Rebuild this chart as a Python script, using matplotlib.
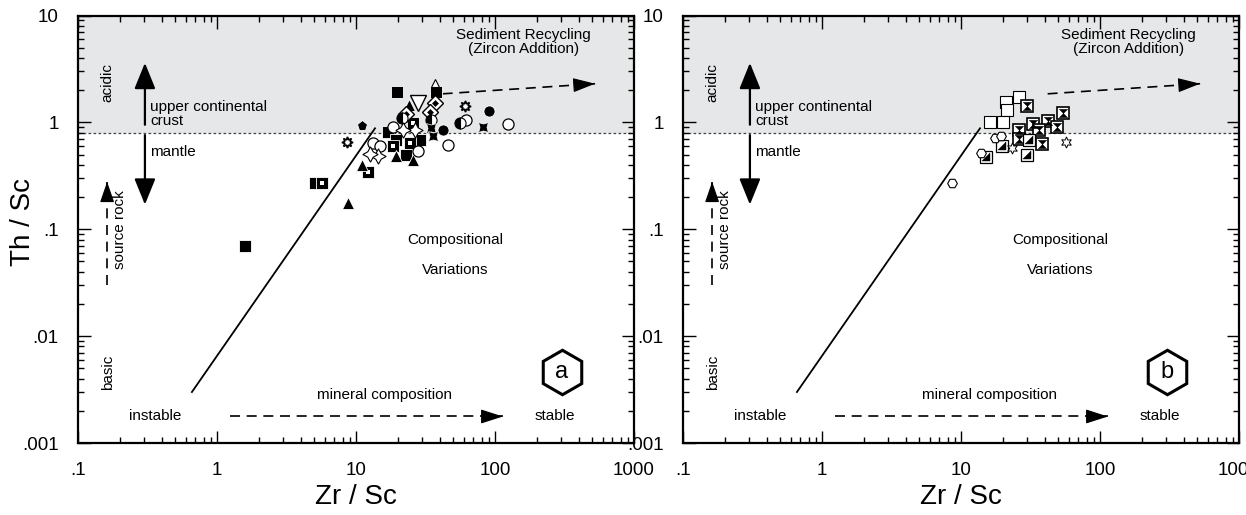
import numpy as np
import matplotlib
matplotlib.use("Agg")
import matplotlib.pyplot as plt
from matplotlib.path import Path
from matplotlib.ticker import LogLocator, FixedLocator, FuncFormatter, NullFormatter

plt.rcParams['font.family'] = ['Liberation Sans', 'DejaVu Sans']

# ---------------- data: panel a (Zr/Sc, Th/Sc) ----------------
a_black_sq_x = [1.6, 19.8, 37.7, 17.0, 23.0, 28.7, 19.5, 5.1]
a_black_sq_y = [0.069, 1.94, 1.94, 0.82, 0.50, 0.68, 0.68, 0.27]
a_check_sq_x = [5.7, 12.1, 18.5, 24.4, 25.7]
a_check_sq_y = [0.27, 0.34, 0.60, 0.64, 0.98]
a_black_tri_x = [24.2, 11.0, 8.7, 19.5, 25.7]
a_black_tri_y = [1.46, 0.40, 0.176, 0.48, 0.44]
a_open_tri_x = [37.0]
a_open_tri_y = [2.32]
a_open_vtri_x = [28.0]
a_open_vtri_y = [1.51]
a_diamond_x = [37.0, 34.0, 22.9]
a_diamond_y = [1.51, 1.24, 1.20]
a_open_circ_x = [62.0, 125.0, 13.3, 14.9, 46.0, 28.0, 18.5]
a_open_circ_y = [1.06, 0.97, 0.64, 0.60, 0.61, 0.54, 0.91]
a_black_circ_x = [91.0, 42.0]
a_black_circ_y = [1.28, 0.85]
a_half_circ_x = [56.0, 34.8, 21.3]
a_half_circ_y = [0.98, 1.06, 1.10]
a_bowtie_x = [82.0, 34.8, 35.8]
a_bowtie_y = [0.90, 0.88, 0.74]
a_open_star_x = [14.5, 12.6, 26.6, 21.9]
a_open_star_y = [0.48, 0.51, 0.85, 0.85]
a_pent_x = [11.0]
a_pent_y = [0.93]
a_sun_x = [8.6, 60.8]
a_sun_y = [0.65, 1.41]

# ---------------- data: panel b ----------------
b_open_sq_x = [26.2, 21.2, 21.6, 16.3, 20.0]
b_open_sq_y = [1.74, 1.56, 1.31, 1.00, 1.00]
b_hourglass_x = [30.0, 54.0, 42.0, 33.0, 49.0, 26.3, 36.6, 26.0, 38.0]
b_hourglass_y = [1.43, 1.22, 1.02, 0.97, 0.91, 0.85, 0.85, 0.70, 0.63]
b_half_sq_x = [19.8, 15.2, 30.0, 31.0]
b_half_sq_y = [0.60, 0.47, 0.50, 0.68]
b_cube_x = [14.0, 17.7, 19.3, 8.6]
b_cube_y = [0.52, 0.71, 0.74, 0.27]
b_star6_x = [57.0, 23.4]
b_star6_y = [0.66, 0.58]

# reference lines / axis labels
upper_crust_limit = 0.8
trend_x = [0.66, 13.7]
trend_y = [0.003, 0.88]
x_tick_vals = [0.1, 1, 10, 100, 1000]
x_tick_txt = ['.1', '1', '10', '100', '1000']
y_tick_vals = [0.001, 0.01, 0.1, 1, 10]
y_tick_txt = ['.001', '.01', '.1', '1', '10']

W, H = 1246, 515
fig = plt.figure(figsize=(W / 100, H / 100), dpi=100)


def box(l, t, r, b):
    return [l / W, 1 - b / H, (r - l) / W, (b - t) / H]


axa = fig.add_axes(box(78, 15.5, 634, 443))
axb = fig.add_axes(box(683, 15.5, 1239, 443))

# custom marker shapes
hourglass = Path([(-1, 1), (1, 1), (-1, -1), (1, -1), (-1, 1)],
                 [Path.MOVETO, Path.LINETO, Path.LINETO, Path.LINETO, Path.CLOSEPOLY])
lower_right = Path([(1, 1), (1, -1), (-1, -1), (1, 1)],
                   [Path.MOVETO, Path.LINETO, Path.LINETO, Path.CLOSEPOLY])


def pts(ax, x, y, **kw):
    base = dict(ls='none', zorder=5)
    base.update(kw)
    ax.plot(x, y, **base)


def head(ax, start, tip, hl, hw):
    # filled arrow head placed at the end of a (dashed) shaft
    t = 0.97
    lx0, ly0 = np.log10(start)
    lx1, ly1 = np.log10(tip)
    back = (10 ** (lx0 + t * (lx1 - lx0)), 10 ** (ly0 + t * (ly1 - ly0)))
    ax.annotate('', xy=tip, xytext=back,
                arrowprops=dict(arrowstyle='-|>,head_length=%g,head_width=%g' % (hl, hw),
                                mutation_scale=1, lw=0.8, color='k',
                                shrinkA=0, shrinkB=0), zorder=6)


def solid_arrow(ax, start, tip):
    ax.annotate('', xy=tip, xytext=start,
                arrowprops=dict(arrowstyle='-|>,head_length=16,head_width=6.5',
                                mutation_scale=1, lw=1.6, color='k',
                                shrinkA=0, shrinkB=0), zorder=6)


def dashed_arrow(ax, start, tip, hl=14, hw=4.5):
    ax.plot([start[0], tip[0]], [start[1], tip[1]], color='k', lw=1.2,
            ls=(0, (6, 4)), zorder=4)
    head(ax, start, tip, hl, hw)


def setup(ax, tag):
    ax.set_xscale('log')
    ax.set_yscale('log')
    ax.set_xlim(0.1, 1000)
    ax.set_ylim(0.001, 10)
    ax.axhspan(upper_crust_limit, 10, color='#e6e7e8', lw=0, zorder=0)
    ax.axhline(upper_crust_limit, color='#444444', lw=0.9, ls=(0, (2.2, 1.8)), zorder=1)

    ax.xaxis.set_major_locator(FixedLocator(x_tick_vals))
    ax.yaxis.set_major_locator(FixedLocator(y_tick_vals))
    ax.xaxis.set_minor_locator(LogLocator(base=10, subs=np.arange(2, 10), numticks=20))
    ax.yaxis.set_minor_locator(LogLocator(base=10, subs=np.arange(2, 10), numticks=20))
    ax.xaxis.set_major_formatter(FuncFormatter(lambda v, p: x_tick_txt[x_tick_vals.index(v)]
                                               if v in x_tick_vals else ''))
    ax.yaxis.set_major_formatter(FuncFormatter(lambda v, p: y_tick_txt[y_tick_vals.index(v)]
                                               if v in y_tick_vals else ''))
    ax.xaxis.set_minor_formatter(NullFormatter())
    ax.yaxis.set_minor_formatter(NullFormatter())
    ax.tick_params(which='both', direction='in', top=True, right=True, width=1.0,
                   labelsize=13.5, colors='k')
    ax.tick_params(which='major', length=9, pad=14)
    ax.tick_params(which='minor', length=4.5)
    for s in ax.spines.values():
        s.set_linewidth(1.6)

    ax.plot(trend_x, trend_y, color='k', lw=1.3, zorder=3)

    fs = 11
    ax.text(0.164, 2.34, 'acidic', rotation=90, ha='center', va='center', fontsize=fs)
    ax.text(0.164, 0.0046, 'basic', rotation=90, ha='center', va='center', fontsize=fs)
    solid_arrow(ax, (0.303, 0.95), (0.303, 3.6))
    solid_arrow(ax, (0.303, 0.76), (0.303, 0.17))
    ax.text(0.33, 1.2, 'upper continental\ncrust', ha='left', va='center', fontsize=fs,
            linespacing=0.95)
    ax.text(0.33, 0.53, 'mantle', ha='left', va='center', fontsize=fs)
    dashed_arrow(ax, (0.162, 0.030), (0.162, 0.278), hl=13, hw=4.5)
    ax.text(0.2, 0.099, 'source rock', rotation=90, ha='center', va='center', fontsize=fs)
    ax.text(0.36, 0.00177, 'instable', ha='center', va='center', fontsize=fs)
    ax.text(270, 0.00177, 'stable', ha='center', va='center', fontsize=fs)
    ax.text(16, 0.0028, 'mineral composition', ha='center', va='center', fontsize=fs)
    dashed_arrow(ax, (1.24, 0.00177), (114, 0.00177))
    ax.text(51.5, 0.080, 'Compositional', ha='center', va='center', fontsize=fs)
    ax.text(51.5, 0.042, 'Variations', ha='center', va='center', fontsize=fs)
    ax.text(160, 5.6, 'Sediment Recycling\n(Zircon Addition)', ha='center', va='center',
            fontsize=fs, linespacing=1.0)
    dashed_arrow(ax, (42, 1.85), (525, 2.3))

    ax.plot([0.870], [0.166], marker='h', ms=32, mfc='white', mec='k', mew=2.2,
            transform=ax.transAxes, zorder=7, clip_on=False)
    ax.text(0.870, 0.166, tag, transform=ax.transAxes, ha='center', va='center',
            fontsize=17, zorder=8)


setup(axa, 'a')
setup(axb, 'b')

# ---- panel a symbols ----
ms = 8
pts(axa, a_black_sq_x, a_black_sq_y, marker='s', ms=ms, mfc='k', mec='white', mew=0.6)
pts(axa, a_check_sq_x, a_check_sq_y, marker='s', ms=ms, mfc='k', mec='white', mew=0.6)
pts(axa, a_check_sq_x, a_check_sq_y, marker='s', ms=3, mfc='white', mec='white', mew=0)
pts(axa, a_black_tri_x, a_black_tri_y, marker='^', ms=ms, mfc='k', mec='white', mew=0.6)
pts(axa, a_open_tri_x, a_open_tri_y, marker='^', ms=6, mfc='white', mec='k', mew=0.8)
pts(axa, a_open_vtri_x, a_open_vtri_y, marker='v', ms=11, mfc='white', mec='k', mew=1.0)
pts(axa, a_diamond_x, a_diamond_y, marker='D', ms=8, mfc='white', mec='k', mew=1.0)
pts(axa, a_diamond_x, a_diamond_y, marker='D', ms=3.5, mfc='k', mec='k', mew=0)
pts(axa, a_open_circ_x, a_open_circ_y, marker='o', ms=ms, mfc='white', mec='k', mew=0.9)
pts(axa, a_black_circ_x, a_black_circ_y, marker='o', ms=ms, mfc='k', mec='white', mew=0.6)
pts(axa, a_half_circ_x, a_half_circ_y, marker='o', ms=ms, mfc='k', mfcalt='white',
    fillstyle='left', mec='k', mew=0.8)
pts(axa, a_bowtie_x, a_bowtie_y, marker=(4, 1, 45), ms=10, mfc='k', mec='white', mew=0.5)
pts(axa, a_open_star_x, a_open_star_y, marker=(4, 1, 0), ms=11, mfc='white', mec='k', mew=0.8)
pts(axa, a_pent_x, a_pent_y, marker='p', ms=ms, mfc='k', mec='white', mew=0.6)
pts(axa, a_sun_x, a_sun_y, marker=(8, 1, 0), ms=8, mfc='white', mec='k', mew=1.2)

# ---- panel b symbols ----
pts(axb, b_open_sq_x, b_open_sq_y, marker='s', ms=ms, mfc='white', mec='k', mew=0.8)
pts(axb, b_hourglass_x, b_hourglass_y, marker='s', ms=ms, mfc='white', mec='k', mew=1.2)
pts(axb, b_hourglass_x, b_hourglass_y, marker=hourglass, ms=6, mfc='k', mec='k', mew=0.3)
pts(axb, b_half_sq_x, b_half_sq_y, marker='s', ms=ms, mfc='white', mec='k', mew=0.9)
pts(axb, b_half_sq_x, b_half_sq_y, marker=lower_right, ms=6, mfc='k', mec='k', mew=0.3)
pts(axb, b_cube_x, b_cube_y, marker='H', ms=7, mfc='white', mec='k', mew=0.8)
pts(axb, b_star6_x, b_star6_y, marker=(6, 1, 0), ms=8, mfc='white', mec='k', mew=0.7)

fig.text(23 / W, 1 - 222 / H, 'Th / Sc', rotation=90, ha='center', va='center', fontsize=20)
fig.text(356 / W, 1 - 497 / H, 'Zr / Sc', ha='center', va='center', fontsize=20)
fig.text(961 / W, 1 - 497 / H, 'Zr / Sc', ha='center', va='center', fontsize=20)

fig.savefig('out.png', dpi=100)
